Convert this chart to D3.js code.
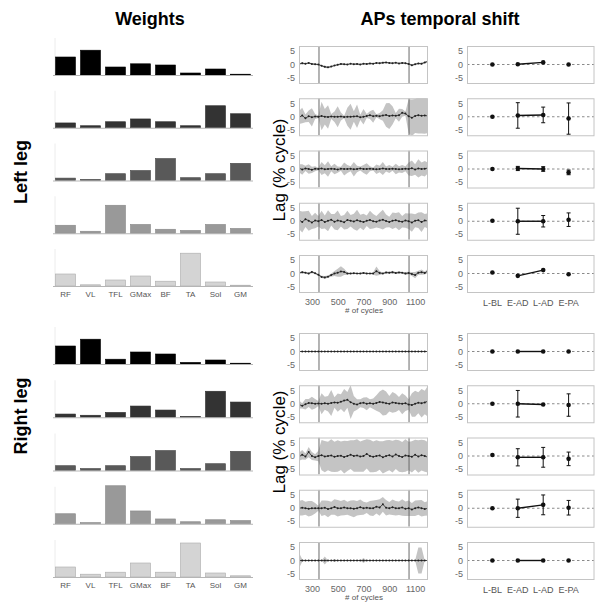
<!DOCTYPE html>
<html>
<head>
<meta charset="utf-8">
<script src="https://cdn.jsdelivr.net/npm/d3@7"></script>
<style>
  body { margin: 0; background: #fff; }
  svg { display: block; font-family: "Liberation Sans", Arial, sans-serif; }
</style>
</head>
<body>
<div id="chart"></div>
<script>
// ---- data ----
const muscles = ["RF", "VL", "TFL", "GMax", "BF", "TA", "Sol", "GM"]
const weightsLeft = [
  [0.45, 0.62, 0.20, 0.28, 0.25, 0.05, 0.15, 0.02],
  [0.12, 0.05, 0.15, 0.22, 0.15, 0.05, 0.55, 0.35],
  [0.06, 0.03, 0.17, 0.25, 0.55, 0.07, 0.17, 0.43],
  [0.20, 0.05, 0.70, 0.22, 0.10, 0.07, 0.22, 0.12],
  [0.30, 0.03, 0.15, 0.25, 0.12, 0.82, 0.10, 0.02],
]
const weightsRight = [
  [0.45, 0.62, 0.12, 0.30, 0.25, 0.04, 0.10, 0.02],
  [0.08, 0.05, 0.12, 0.28, 0.18, 0.02, 0.65, 0.38],
  [0.12, 0.05, 0.12, 0.35, 0.50, 0.05, 0.17, 0.48],
  [0.25, 0.03, 0.95, 0.32, 0.12, 0.05, 0.10, 0.08],
  [0.25, 0.07, 0.12, 0.35, 0.12, 0.85, 0.10, 0.03],
]
const barColors = ["#000000", "#333333", "#595959", "#999999", "#d4d4d4"]
const barEdges = ["#000000", "#2a2a2a", "#4a4a4a", "#888888", "#aaaaaa"]

const cycles = [200, 225, 250, 275, 300, 325, 350, 375, 400, 425, 450, 475, 500, 525, 550, 575, 600, 625, 650, 675,
  700, 725, 750, 775, 800, 825, 850, 875, 900, 925, 950, 975, 1000, 1025, 1050, 1075, 1100, 1125, 1150, 1175, 1200]
const transitions = [355, 1053]
const cycleTicks = [300, 500, 700, 900, 1100]
const lagTicks = [5, 0, -5]

// left leg lag (mean) and spread (sd) per synergy
const lagL1 = [0.2, 0.5, 0.3, 0.6, 0.2, 0.1, 0.0, -0.5, -0.9, -1.1, -0.8, -0.4, -0.1, 0.2, 0.1, 0.0, 0.3, 0.1, 0.2, 0.0,
  0.3, 0.2, 0.4, 0.3, 0.6, 0.5, 0.7, 0.8, 0.6, 0.5, 0.7, 0.4, 0.6, 0.5, 0.2, -0.3, 0.1, 0.4, 0.3, 0.8, 1.2]
const sdL1 = [0.3, 0.4, 0.3, 0.3, 0.4, 0.3, 0.2, 0.3, 0.4, 0.3, 0.3, 0.2, 0.3, 0.4, 0.3, 0.3, 0.2, 0.3, 0.4, 0.3,
  0.3, 0.3, 0.4, 0.3, 0.2, 0.3, 0.4, 0.3, 0.3, 0.3, 0.2, 0.3, 0.4, 0.3, 0.3, 0.4, 0.3, 0.3, 0.4, 0.3, 0.4]
const lagL2 = [-0.3, 0.5, -0.6, 0.2, -0.2, 0.1, 0.0, 0.3, 0.0, -0.1, 0.1, 0.0, 0.0, 0.1, -0.1, 0.0, 0.0, 0.1, 0.2, -0.2,
  0.0, 0.3, 0.6, 0.2, 0.4, 0.2, 0.5, 0.7, 0.3, 0.5, 0.4, 0.6, 1.5, 1.2, 0.2, -0.4, 0.3, 0.6, 0.4, 0.5, 0.3]
const sdL2 = [2.5, 3.0, 1.5, 2.2, 3.5, 1.0, 0.5, 5.5, 3.0, 4.5, 1.0, 2.0, 4.0, 1.5, 0.5, 3.5, 5.0, 2.0, 4.5, 1.0,
  3.0, 0.8, 1.5, 2.5, 0.6, 1.2, 2.0, 4.5, 5.0, 3.5, 1.0, 2.5, 1.5, 0.8, 6.5, 7.0, 6.5, 7.0, 6.8, 7.0, 6.5]
const lagL3 = [0.3, -0.2, 0.2, 0.0, -0.3, 0.1, 0.0, 0.2, -0.1, 0.0, 0.1, 0.0, -0.2, 0.1, 0.0, 0.0, 0.1, -0.1, 0.0, 0.2,
  0.0, 0.0, 0.1, 0.0, -0.1, 0.0, 0.2, 0.0, 0.0, 0.1, 0.0, -0.1, 0.0, 0.1, 0.0, 0.3, -0.2, 0.2, 0.0, 0.1, 0.4]
const sdL3 = [1.5, 2.0, 1.0, 1.8, 1.2, 1.0, 0.5, 2.5, 1.5, 3.0, 1.0, 2.0, 1.2, 0.8, 2.5, 1.5, 1.0, 2.8, 1.2, 0.8,
  1.5, 2.2, 1.0, 0.6, 1.8, 1.2, 2.5, 1.0, 1.5, 0.8, 2.0, 1.2, 1.5, 1.0, 2.5, 3.0, 2.0, 3.5, 2.5, 3.0, 2.0]
const lagL4 = [0.5, -0.3, 0.8, 0.2, -0.5, 0.3, 0.0, 0.5, -0.3, 0.2, 0.6, -0.2, 0.3, 0.0, -0.4, 0.5, 0.2, -0.1, 0.4, 0.0,
  -0.3, 0.2, 0.5, 0.0, -0.2, 0.3, 0.6, 0.1, -0.3, 0.2, 0.4, 0.0, -0.2, 0.3, 0.0, -0.5, 0.2, 0.4, -0.3, 0.3, 0.1]
const sdL4 = [3.5, 4.0, 3.0, 3.8, 2.5, 3.0, 2.0, 3.5, 2.5, 4.0, 2.2, 3.0, 3.8, 2.0, 2.8, 3.5, 2.2, 3.0, 4.0, 2.5,
  3.2, 2.0, 3.5, 2.8, 2.2, 3.0, 3.8, 2.5, 2.0, 3.2, 2.8, 3.5, 2.2, 2.8, 3.0, 3.5, 2.5, 3.0, 3.8, 2.5, 3.0]
const lagL5 = [0.2, 0.5, 0.3, 0.0, 0.6, 0.1, -0.5, -1.3, -1.5, -1.2, -0.6, 0.0, 0.3, 0.8, 0.6, 0.0, 0.0, 0.1, 0.0, 0.0,
  0.2, 0.0, 0.0, 0.0, 0.9, 0.2, 0.0, 0.4, 0.3, 0.5, 0.2, 0.4, 0.3, 0.0, 0.2, -0.2, -0.6, 0.3, 0.5, 0.2, 1.0]
const sdL5 = [0.3, 0.5, 0.3, 0.4, 0.5, 0.3, 0.3, 0.4, 0.5, 0.4, 0.6, 1.0, 1.5, 2.0, 1.2, 0.5, 0.3, 0.3, 0.2, 0.3,
  0.4, 0.3, 0.2, 0.5, 1.8, 0.8, 0.3, 0.5, 0.4, 0.6, 0.4, 0.5, 0.3, 0.6, 0.5, 0.8, 1.2, 0.8, 1.0, 0.6, 0.8]

// right leg
const lagR1 = [0, 0, 0, 0, 0, 0, 0, 0, 0, 0, 0, 0, 0, 0, 0, 0, 0, 0, 0, 0,
  0, 0, 0, 0, 0, 0, 0, 0, 0, 0, 0, 0, 0, 0, 0, 0, 0, 0, 0, 0, 0]
const sdR1 = [0.1, 0.1, 0.1, 0.1, 0.1, 0.1, 0.1, 0.1, 0.1, 0.1, 0.1, 0.1, 0.1, 0.1, 0.1, 0.1, 0.1, 0.1, 0.1, 0.1,
  0.1, 0.1, 0.1, 0.1, 0.1, 0.1, 0.1, 0.1, 0.1, 0.1, 0.1, 0.1, 0.1, 0.1, 0.1, 0.1, 0.1, 0.1, 0.1, 0.1, 0.1]
const lagR2 = [-0.3, -0.8, -0.2, 0.3, 0.2, 0.0, 0.1, 0.0, 0.2, 0.0, 0.3, 0.5, 0.4, 0.8, 1.2, 1.5, 0.6, 0.0, -0.3, 0.2,
  0.4, 0.0, 0.2, 0.0, 0.3, 0.7, 0.5, 0.2, 0.0, 0.5, 0.3, 0.1, 0.0, 0.2, -0.3, -0.5, 0.0, 0.4, 0.2, 0.5, 1.0]
const sdR2 = [1.5, 1.0, 2.0, 1.5, 2.5, 1.8, 1.0, 4.0, 2.5, 3.0, 5.0, 2.0, 3.5, 2.8, 4.5, 3.0, 6.5, 3.0, 2.0, 1.5,
  2.0, 2.5, 1.5, 2.0, 3.0, 4.0, 5.0, 4.5, 3.0, 4.0, 3.5, 2.5, 4.0, 3.0, 2.0, 4.5, 5.0, 4.0, 5.5, 4.5, 6.0]
const lagR3 = [-0.3, 0.5, -0.2, 1.5, 0.0, -0.5, 0.0, 0.3, -0.2, 0.0, 0.2, -0.3, 0.0, 0.1, -0.4, 0.0, 0.5, 0.0, 0.2, -0.2,
  0.0, 0.8, 0.0, -0.3, 0.0, 0.2, -0.5, 0.0, 0.3, -0.2, 0.6, 0.0, -0.4, 0.2, 0.0, -0.3, 0.5, -0.2, 0.3, 0.0, -0.5]
const sdR3 = [1.5, 1.8, 1.2, 2.0, 1.5, 1.2, 2.0, 5.8, 6.0, 5.5, 6.2, 5.8, 6.0, 5.5, 6.3, 5.8, 5.5, 6.0, 6.2, 5.8,
  6.0, 5.6, 6.2, 5.9, 6.0, 5.5, 6.2, 6.0, 5.8, 6.1, 5.6, 6.0, 5.8, 6.2, 5.5, 6.0, 5.7, 6.2, 5.9, 6.0, 5.8]
const lagR4 = [0.0, 0.2, 0.0, -0.2, 0.0, 0.0, 0.0, 0.0, 0.2, -0.3, 0.0, 0.5, 0.0, 0.0, 0.3, 0.0, 0.0, -0.2, 0.0, 0.4,
  0.0, 0.2, 0.0, 0.0, 0.6, 0.3, 1.5, 0.2, 0.0, 0.4, 0.0, 0.0, 0.3, -0.2, 0.0, -0.5, 0.0, 0.3, 0.0, -0.3, 0.0]
const sdR4 = [2.8, 3.0, 2.5, 3.0, 2.8, 2.0, 1.0, 3.0, 2.8, 3.2, 2.5, 3.0, 3.2, 2.8, 3.0, 2.5, 3.0, 3.3, 2.8, 3.0,
  2.5, 2.0, 2.8, 3.0, 2.6, 3.2, 2.8, 3.0, 2.4, 3.0, 2.8, 2.6, 3.2, 2.8, 3.0, 2.5, 3.0, 2.8, 3.2, 2.6, 2.8]
const lagR5 = [0, 0, 0, 0, 0, 0, 0, 0, 0, 0, 0, 0, 0, 0, 0, 0, 0, 0, 0, 0,
  0, 0, 0, 0, 0, 0, 0, 0, 0, 0, 0, 0, 0, 0, 0, 0, 0, 0, 0, 0, 0]
const sdR5 = [3.0, 0.5, 0, 0, 0, 0, 0, 0, 1.5, 0, 0, 0.6, 0, 0, 0, 0, 0, 0, 0, 0,
  1.0, 0, 0, 0, 0, 0, 0, 0, 0, 0, 0, 0, 0, 0, 0, 0, 0, 5.0, 5.0, 0, 0]

// per-phase mean shift and sd
const phases = ["L-BL", "E-AD", "L-AD", "E-PA"]
const shiftMeanLeft = [[0, 0.1, 0.8, 0], [0, 0.5, 0.7, -0.7], [0, 0.2, 0, -1.3], [0.2, 0, 0, 0.6], [0.4, -0.9, 1.3, -0.3]]
const shiftSdLeft = [[0.2, 0.3, 0.3, 0.2], [0.3, 4.9, 3.0, 6.0], [0.3, 0.8, 0.9, 0.9], [0.3, 5.0, 2.2, 2.6], [0.3, 0.4, 0.4, 0.4]]
const shiftMeanRight = [[0, 0, 0, 0], [0, 0, -0.3, -0.5], [0.4, -0.5, -0.5, -1.1], [0, 0, 1.3, 0.2], [0, 0, 0, 0]]
const shiftSdRight = [[0.2, 0.2, 0.2, 0.2], [0.3, 5.1, 0.5, 4.3], [0.4, 3.3, 3.8, 2.6], [0.3, 3.5, 3.8, 2.8], [0.2, 0.2, 0.2, 0.2]]

function drawFigure() {

  const dimensions = { width: 595, height: 602 }

  const wrapper = d3.select("#chart")
    .append("svg")
      .attr("width", dimensions.width)
      .attr("height", dimensions.height)

  // column titles
  wrapper.append("text")
    .attr("x", 150).attr("y", 25)
    .attr("text-anchor", "middle")
    .style("font-size", "18px").style("font-weight", "bold")
    .text("Weights")
  wrapper.append("text")
    .attr("x", 440).attr("y", 25)
    .attr("text-anchor", "middle")
    .style("font-size", "18px").style("font-weight", "bold")
    .text("APs temporal shift")

  // scales shared by all panels
  const xBand = d3.scaleBand().domain(muscles).range([53, 253]).paddingInner(0.2).paddingOuter(0.1)
  const xCycle = d3.scaleLinear().domain([200, 1200]).range([299, 428])
  const xPhase = d3.scaleLinear().domain([0, 5]).range([467, 594])
  const panelH = 37

  const legs = [
    { label: "Left leg", labelY: 172, lagLabelY: 170, weights: weightsLeft, barBase: 75, barStep: 52.75, top: 46, step: 52.25,
      lags: [lagL1, lagL2, lagL3, lagL4, lagL5], sds: [sdL1, sdL2, sdL3, sdL4, sdL5],
      shiftMean: shiftMeanLeft, shiftSd: shiftSdLeft },
    { label: "Right leg", labelY: 416, lagLabelY: 442, weights: weightsRight, barBase: 364, barStep: 53.25, top: 333, step: 52.25,
      lags: [lagR1, lagR2, lagR3, lagR4, lagR5], sds: [sdR1, sdR2, sdR3, sdR4, sdR5],
      shiftMean: shiftMeanRight, shiftSd: shiftSdRight },
  ]

  legs.forEach((leg, li) => {

    // leg label
    wrapper.append("text")
      .attr("transform", `translate(27, ${leg.labelY}) rotate(-90)`)
      .attr("text-anchor", "middle")
      .style("font-size", "18px").style("font-weight", "bold")
      .text(leg.label)

    // y label of the time series column
    wrapper.append("text")
      .attr("transform", `translate(285, ${leg.lagLabelY}) rotate(-90)`)
      .attr("text-anchor", "middle")
      .style("font-size", "17px")
      .text("Lag (% cycle)")

    leg.weights.forEach((w, k) => {
      const base = leg.barBase + k * leg.barStep
      const yW = d3.scaleLinear().domain([0, 1]).range([base, base - 40])
      const g = wrapper.append("g")

      g.append("line")
        .attr("x1", 55).attr("x2", 55)
        .attr("y1", base - 37).attr("y2", base)
        .attr("stroke", "#ececec")

      g.selectAll("rect")
        .data(muscles)
        .join("rect")
          .attr("x", d => xBand(d))
          .attr("width", xBand.bandwidth())
          .attr("y", (d, i) => yW(w[i]))
          .attr("height", (d, i) => base - yW(w[i]))
          .attr("fill", barColors[k])
          .attr("stroke", barEdges[k])
          .attr("stroke-width", 0.6)

      g.append("line")
        .attr("x1", 53).attr("x2", 253)
        .attr("y1", base + 0.5).attr("y2", base + 0.5)
        .attr("stroke", "#b5b5b5")

      if (k === 4) {
        g.selectAll(".mlab")
          .data(muscles)
          .join("text")
            .attr("x", d => xBand(d) + xBand.bandwidth() / 2)
            .attr("y", base + 11)
            .attr("text-anchor", "middle")
            .style("font-size", "8px")
            .attr("fill", "#555")
            .text(d => d)
      }
    })

    // time series panels
    leg.lags.forEach((lag, k) => {
      const top = leg.top + k * leg.step
      const yLag = d3.scaleLinear().domain([-7.1, 7.1]).range([top + panelH, top])
      const sd = leg.sds[k]
      const pts = d3.range(Math.min(cycles.length, lag.length, sd.length))
        .map(i => ({ c: cycles[i], m: lag[i], s: sd[i] }))
      const g = wrapper.append("g")
      const clipId = `clip-${li}-${k}`
      g.append("clipPath").attr("id", clipId)
        .append("rect")
          .attr("x", xCycle.range()[0]).attr("y", top)
          .attr("width", xCycle.range()[1] - xCycle.range()[0]).attr("height", panelH)

      const inner = g.append("g").attr("clip-path", `url(#${clipId})`)
      inner.append("path")
        .datum(pts)
        .attr("fill", "#c4c4c4")
        .attr("d", d3.area()
          .x(d => xCycle(d.c))
          .y0(d => yLag(d.m - d.s))
          .y1(d => yLag(d.m + d.s)))

      transitions.forEach(t => {
        inner.append("line")
          .attr("x1", xCycle(t)).attr("x2", xCycle(t))
          .attr("y1", top).attr("y2", top + panelH)
          .attr("stroke", "#6a6a6a")
      })

      inner.append("path")
        .datum(pts)
        .attr("fill", "none")
        .attr("stroke", "#333")
        .attr("stroke-width", 0.9)
        .attr("d", d3.line().x(d => xCycle(d.c)).y(d => yLag(d.m)))
      inner.selectAll("circle")
        .data(pts)
        .join("circle")
          .attr("cx", d => xCycle(d.c))
          .attr("cy", d => yLag(d.m))
          .attr("r", 1)
          .attr("fill", "#222")

      g.append("rect")
        .attr("x", 299.5).attr("y", top + 0.5)
        .attr("width", 128).attr("height", panelH)
        .attr("fill", "none").attr("stroke", "#c4c4c4")

      g.selectAll(".ytick")
        .data(lagTicks)
        .join("text")
          .attr("x", 295)
          .attr("y", d => yLag(d) + 3)
          .attr("text-anchor", "end")
          .style("font-size", "9px")
          .attr("fill", "#666")
          .text(d => d)

      if (k === 4) {
        const xAxis = g.append("g")
          .attr("transform", `translate(0, ${top + panelH + 0.5})`)
          .call(d3.axisBottom(xCycle).tickValues(cycleTicks).tickFormat(d3.format("d")).tickSize(0).tickPadding(6))
        xAxis.select(".domain").remove()
        xAxis.selectAll("text").style("font-size", "9px").attr("fill", "#666")
          .style("font-family", "Liberation Sans, Arial, sans-serif")
        g.append("text")
          .attr("x", 364).attr("y", top + panelH + 21)
          .attr("text-anchor", "middle")
          .style("font-size", "8px")
          .attr("fill", "#555")
          .text("# of cycles")
      }
    })

    // phase shift panels
    leg.shiftMean.forEach((means, k) => {
      const top = leg.top + k * leg.step
      const yLag = d3.scaleLinear().domain([-7.1, 7.1]).range([top + panelH, top])
      const sds = leg.shiftSd[k]
      const pts = phases.map((p, i) => ({ p, x: i + 1, m: means[i], s: sds[i] }))
      const g = wrapper.append("g")

      g.append("line")
        .attr("x1", 467).attr("x2", 594)
        .attr("y1", yLag(0)).attr("y2", yLag(0))
        .attr("stroke", "#8a8a8a")
        .attr("stroke-dasharray", "2.5,2.5")

      g.append("path")
        .datum(pts.slice(1, 3))
        .attr("fill", "none").attr("stroke", "#111").attr("stroke-width", 1.4)
        .attr("d", d3.line().x(d => xPhase(d.x)).y(d => yLag(d.m)))

      const bars = pts.filter(d => d.s > 0.6)
      g.selectAll(".eb")
        .data(bars)
        .join("line")
          .attr("x1", d => xPhase(d.x)).attr("x2", d => xPhase(d.x))
          .attr("y1", d => yLag(d.m - d.s)).attr("y2", d => yLag(d.m + d.s))
          .attr("stroke", "#111").attr("stroke-width", 1)
      ;["lo", "hi"].forEach(side => {
        g.selectAll(".cap-" + side)
          .data(bars)
          .join("line")
            .attr("x1", d => xPhase(d.x) - 2).attr("x2", d => xPhase(d.x) + 2)
            .attr("y1", d => yLag(side === "lo" ? d.m - d.s : d.m + d.s))
            .attr("y2", d => yLag(side === "lo" ? d.m - d.s : d.m + d.s))
            .attr("stroke", "#111").attr("stroke-width", 1)
      })

      g.selectAll("circle")
        .data(pts)
        .join("circle")
          .attr("cx", d => xPhase(d.x))
          .attr("cy", d => yLag(d.m))
          .attr("r", 2.3)
          .attr("fill", "#111")

      g.append("rect")
        .attr("x", 467.5).attr("y", top + 0.5)
        .attr("width", 126.5).attr("height", panelH)
        .attr("fill", "none").attr("stroke", "#c4c4c4")

      g.selectAll(".ytick")
        .data(lagTicks)
        .join("text")
          .attr("x", 463)
          .attr("y", d => yLag(d) + 3)
          .attr("text-anchor", "end")
          .style("font-size", "9px")
          .attr("fill", "#666")
          .text(d => d)

      if (k === 4) {
        g.selectAll(".plab")
          .data(pts)
          .join("text")
            .attr("x", d => xPhase(d.x))
            .attr("y", top + panelH + 14)
            .attr("text-anchor", "middle")
            .style("font-size", "9px")
            .attr("fill", "#555")
            .text(d => d.p)
      }
    })
  })
}

drawFigure()
</script>
</body>
</html>
